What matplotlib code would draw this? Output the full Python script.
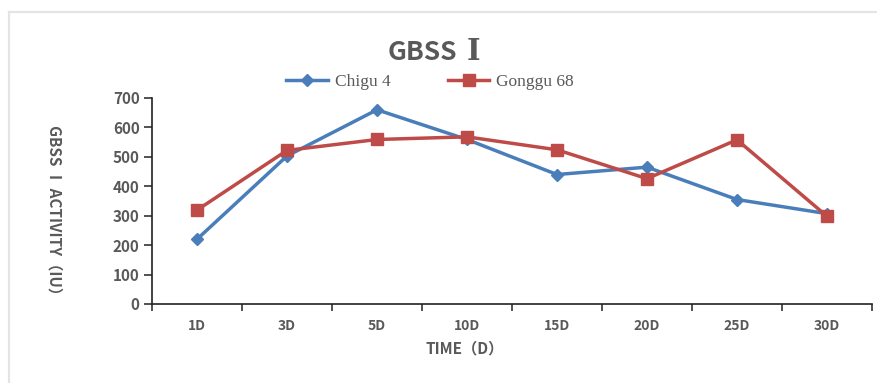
import matplotlib
matplotlib.use("Agg")
import matplotlib.pyplot as plt
from matplotlib.lines import Line2D

# Sampling days and measured GBSS I activity (IU)
days = ["1D", "3D", "5D", "10D", "15D", "20D", "25D", "30D"]
chigu4 = [220, 503, 660, 559, 440, 465, 355, 307]
gonggu68 = [319, 522, 559, 568, 524, 426, 558, 298]
y_ticks = [0, 100, 200, 300, 400, 500, 600, 700]

W, H = 877, 383
fig = plt.figure(figsize=(W / 100, H / 100), dpi=100)

grey = "#595959"
sans = ["Noto Sans CJK SC", "DejaVu Sans"]
numeral = ["DejaVu Serif", "Noto Sans CJK SC"]
blue = "#4a7ebb"
red = "#be4b48"

def fx(px):
    return px / W

def fy(py):
    return 1 - py / H

# light frame along the top and left edges
fig.add_artist(Line2D([fx(8.5), fx(8.5)], [fy(11.5), 0], color="#e4e4e4", lw=1.6,
                      transform=fig.transFigure))
fig.add_artist(Line2D([fx(8.5), 1], [fy(11.5), fy(11.5)], color="#e4e4e4", lw=1.6,
                      transform=fig.transFigure))

ax = fig.add_axes([fx(152), fy(304), fx(872) - fx(152), fy(98) - fy(304)])

x = list(range(len(days)))
ax.plot(x, chigu4, color=blue, lw=2.5, marker="D", markersize=6.5, label="Chigu 4",
        solid_joinstyle="round", zorder=3)
ax.plot(x, gonggu68, color=red, lw=2.5, marker="s", markersize=8.5, label="Gonggu 68",
        solid_joinstyle="round", zorder=4)

ax.set_xlim(-0.5, len(days) - 0.5)
ax.set_ylim(0, 700)
ax.set_yticks(y_ticks)
ax.set_yticklabels([str(v) for v in y_ticks], family=sans, fontweight="bold",
                   fontsize=11, color=grey)

# ticks at category boundaries, labels at category centres
ax.set_xticks([i - 0.5 for i in range(len(days) + 1)])
ax.set_xticklabels([])
ax.set_xticks(x, minor=True)
ax.set_xticklabels(days, minor=True, family=sans, fontweight="bold", fontsize=10,
                   color=grey)
ax.tick_params(axis="x", which="major", direction="out", length=5, width=1.1,
               color="#222222")
ax.tick_params(axis="x", which="minor", length=0, pad=11)
ax.tick_params(axis="y", direction="out", length=6, width=1.1, color="#222222", pad=3)

for side in ("top", "right"):
    ax.spines[side].set_visible(False)
for side in ("left", "bottom"):
    ax.spines[side].set_color("#222222")
    ax.spines[side].set_linewidth(1.2)

# title: "GBSS" followed by the roman numeral
fig.text(fx(457), fy(53), "GBSS", family=sans, fontweight="bold", fontsize=19,
         color=grey, ha="right", va="center")
fig.text(fx(467), fy(51), "Ⅰ", family=numeral, fontweight="bold", fontsize=21,
         color=grey, ha="left", va="center")

fig.text(fx(55), fy(214), "GBSS Ⅰ ACTIVITY（IU）", family=sans, fontweight="bold",
         fontsize=11, color=grey, rotation=-90, ha="center", va="center")
fig.text(fx(465), fy(348), "TIME（D）", family=sans, fontweight="bold",
         fontsize=11, color=grey, ha="center", va="center")

leg = fig.legend(loc="center", bbox_to_anchor=(fx(430), fy(82)), ncol=2,
                 frameon=False, handlelength=2.4, handletextpad=0.4,
                 columnspacing=3.3, prop={"family": "Liberation Serif", "size": 12.5})
for t in leg.get_texts():
    t.set_color(grey)

fig.savefig("out.png", dpi=100)
